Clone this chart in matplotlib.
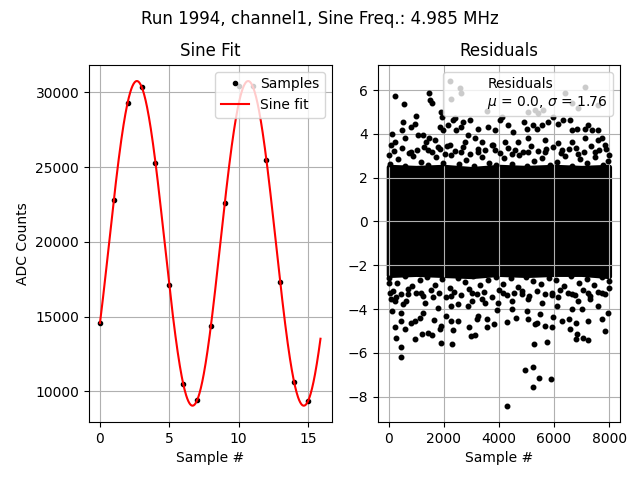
import numpy as np
import matplotlib
matplotlib.use("Agg")
import matplotlib.pyplot as plt

#%% DATA
run_title = "Run 1994, channel1, Sine Freq.: 4.985 MHz"

# first 16 ADC samples
sample_idx = np.arange(16)
sample_adc = [14550, 22800, 29260, 30330, 25250, 17090, 10490, 9400,
              14370, 22580, 30450, 30420, 25450, 17290, 10600, 9330]

# sine fit parameters
fit_offset = 19897
fit_amp = 10860
fit_period = 8.024   # samples
fit_peak = 2.66      # sample position of first maximum
fit_end = 15.9

# residuals: solid core of the band, every 1000 samples
core_x = [0, 1000, 2000, 3000, 4000, 5000, 6000, 7000, 7999]
core_hi = [2.5, 2.45, 2.5, 2.4, 2.5, 2.45, 2.5, 2.45, 2.5]
core_lo = [-2.45, -2.4, -2.45, -2.5, -2.4, -2.45, -2.4, -2.4, -2.5]

# residuals at the ragged edges of the core
edge_x = [60, 330, 610, 880, 1170, 1430, 1720, 1990, 2270, 2540, 2810, 3090,
          3370, 3640, 3910, 4190, 4460, 4740, 5010, 5290, 5560, 5840, 6110,
          6390, 6660, 6940, 7210, 7490, 7760, 7960,
          190, 470, 740, 1020, 1300, 1570, 1850, 2120, 2400, 2680, 2950, 3230,
          3500, 3780, 4050, 4330, 4600, 4880, 5150, 5430, 5700, 5980, 6250,
          6530, 6800, 7080, 7350, 7630, 7890,
          30, 300, 580, 850, 1130, 1400, 1680, 1950, 2230, 2500, 2780, 3050,
          3330, 3600, 3880, 4150, 4430, 4700, 4980, 5250, 5530, 5800, 6080,
          6350, 6630, 6900, 7180, 7450, 7730, 7990,
          160, 440, 710, 990, 1260, 1540, 1810, 2090, 2360, 2640, 2910, 3190,
          3460, 3740, 4010, 4290, 4560, 4840, 5110, 5390, 5660, 5940, 6210,
          6490, 6760, 7040, 7310, 7590, 7860]
edge_y = [2.62, 2.85, 2.55, 2.98, 2.70, 2.58, 2.92, 2.66, 3.05, 2.60, 2.80, 2.52,
          2.95, 2.68, 2.57, 2.88, 2.63, 3.02, 2.55, 2.76, 2.90, 2.59, 2.71,
          2.97, 2.54, 2.83, 2.65, 2.93, 2.58, 2.74,
          3.20, 3.35, 3.12, 3.28, 3.42, 3.15, 3.30, 3.45, 3.22, 3.38, 3.10, 3.33,
          3.25, 3.48, 3.14, 3.36, 3.27, 3.18, 3.44, 3.21, 3.32, 3.40, 3.13,
          3.29, 3.37, 3.16, 3.43, 3.24, 3.31,
          -2.58, -2.82, -2.50, -2.95, -2.66, -2.54, -2.89, -2.62, -3.02, -2.57,
          -2.78, -2.49, -2.92, -2.65, -2.55, -2.86, -2.60, -2.99, -2.52, -2.74,
          -2.87, -2.56, -2.69, -2.94, -2.51, -2.81, -2.63, -2.90, -2.55, -2.72,
          -3.18, -3.33, -3.10, -3.26, -3.40, -3.13, -3.28, -3.43, -3.20, -3.36,
          -3.08, -3.31, -3.23, -3.46, -3.12, -3.34, -3.25, -3.16, -3.42, -3.19,
          -3.30, -3.38, -3.11, -3.27, -3.35, -3.14, -3.41, -3.22, -3.29]

# residuals further out
res_x = [220, 547, 1456, 1492, 1565, 2619, 2256, 2595, 2243, 1007, 535, 498,
         825, 947, 1250, 1456, 1916, 1953, 1880, 1977, 2159, 2340, 2401, 2704,
         2946, 2643, 2437, 2862, 3552, 3249, 3613, 3855, 4037, 4122, 4340, 4522,
         4922, 5007, 5067, 5310, 5431, 5613, 5249, 5370, 5552, 5795, 5976, 6158,
         6340, 6582, 6643, 6825, 7128, 7249, 7370, 7613, 7734, 7855, 6401, 7128,
         6643, 6885, 7613, 135, 219, 583, 1068, 1371, 1674, 1795, 2219, 2765,
         3128, 3371, 3734, 4219, 4704, 5067, 5673, 6158, 6643, 7128, 7613, 98,
         0, 7976, 825, 2037, 3249, 4461, 5673, 6885, 1431, 2643, 3855, 5067,
         6279, 7491,
         98, 244, 522, 644, 122, 438, 462, 244, 607, 256, 438, 438, 947, 825,
         947, 1128, 1250, 1310, 1613, 1650, 1225, 1431, 1577, 1856, 1916, 1892,
         2098, 2280, 2328, 2292, 2522, 2280, 2886, 3007, 2922, 2983, 3128, 3189,
         3249, 3552, 3552, 3819, 3492, 3916, 4280, 4607, 4461, 5007, 5067, 5273,
         5310, 5395, 5492, 5673, 5746, 5916, 5976, 6098, 4946, 5237, 5455, 5237,
         5892, 4292, 6304, 6546, 6582, 6788, 6837, 6813, 7055, 7225, 7249, 7007,
         6643, 7310, 7734, 7855, 7940, 7734, 7976, 0, 38, 280, 704, 1795, 2522,
         3371, 3977, 4461, 5067, 5552, 6158, 6885, 7613, 1189, 2280, 3007, 4159,
         4825, 5916, 6643, 7249]
res_y = [5.73, 5.36, 5.86, 5.54, 5.39, 5.86, 5.59, 6.08, 6.41, 4.82, 4.52, 4.17,
         4.32, 4.47, 3.94, 3.79, 5.01, 4.78, 4.32, 4.17, 4.40, 4.63, 4.70, 4.55,
         4.63, 4.32, 4.17, 3.94, 5.05, 4.24, 4.32, 4.17, 4.63, 4.78, 4.40, 4.09,
         4.55, 4.24, 5.01, 5.08, 4.93, 5.08, 4.40, 4.24, 4.40, 4.55, 4.78, 4.47,
         4.63, 4.63, 4.17, 4.24, 4.24, 4.40, 4.17, 4.17, 3.79, 3.48, 5.85, 6.15,
         5.39, 5.16, 5.31, 4.01, 3.63, 3.79, 3.94, 3.63, 3.71, 3.40, 3.48, 3.63,
         3.79, 3.63, 3.48, 3.63, 3.63, 3.79, 3.71, 3.56, 3.63, 3.79, 3.71, 3.48,
         3.02, 3.02, 3.17, 3.10, 3.17, 3.10, 3.17, 3.10, 3.25, 3.17, 3.25, 3.17,
         3.25, 3.17,
         -3.55, -3.63, -3.78, -3.63, -4.09, -4.16, -4.54, -4.80, -4.90, -5.31,
         -5.72, -6.18, -5.38, -4.62, -4.54, -4.39, -4.16, -3.70, -3.47, -4.51,
         -5.13, -5.11, -5.19, -4.93, -4.77, -5.57, -4.32, -4.54, -4.97, -5.58,
         -4.53, -3.86, -3.86, -3.63, -4.80, -5.23, -5.17, -4.47, -4.32, -4.47,
         -4.82, -4.67, -3.70, -4.06, -4.57, -4.41, -4.01, -4.09, -4.47, -5.58,
         -4.70, -4.62, -4.24, -4.77, -5.49, -4.80, -4.35, -3.86, -6.76, -6.64,
         -7.13, -7.54, -7.19, -8.41, -4.54, -4.47, -4.93, -4.62, -5.16, -5.35,
         -5.34, -5.43, -4.54, -4.01, -4.01, -3.55, -4.44, -5.02, -4.19, -3.25,
         -3.02, -2.79, -3.25, -3.47, -3.32, -3.93, -3.78, -3.55, -3.70, -3.63,
         -3.55, -3.70, -3.47, -3.63, -3.86, -3.25, -3.40, -3.25, -3.25, -3.32,
         -3.25, -3.32, -3.25]
res_mu = 0.0
res_sigma = 1.76

#%% PLOT
fig, (ax1, ax2) = plt.subplots(1, 2, figsize=(6.4, 4.8), dpi=100)
fig.subplots_adjust(left=0.139, right=0.969, top=0.865, bottom=0.121,
                    wspace=0.19)
fig.suptitle(run_title)

fit_x = np.linspace(0, fit_end, 600)
fit_y = fit_offset + fit_amp * np.cos(2 * np.pi * (fit_x - fit_peak) / fit_period)

ax1.plot(sample_idx, sample_adc, "k.", label="Samples")
ax1.plot(fit_x, fit_y, "r-", label="Sine fit")
ax1.set_title("Sine Fit")
ax1.set_xlabel("Sample #")
ax1.set_ylabel("ADC Counts")
ax1.grid(True)
ax1.legend(loc="upper right")

#solid core of residual band + scattered points around it
ax2.fill_between(core_x, core_lo, core_hi, color="k", lw=3.5, edgecolor="k")
ax2.plot(edge_x, edge_y, "k.", ms=6.5)
ax2.plot(res_x, res_y, "k.", ms=6.5)
ax2.plot([], [], " ",
         label="Residuals\n$\\mu$ = %.1f, $\\sigma$ = %.2f" % (res_mu, res_sigma))
ax2.set_title("Residuals")
ax2.set_xlabel("Sample #")
ax2.grid(True)
ax2.legend(loc="upper right")

fig.savefig("out.png")
